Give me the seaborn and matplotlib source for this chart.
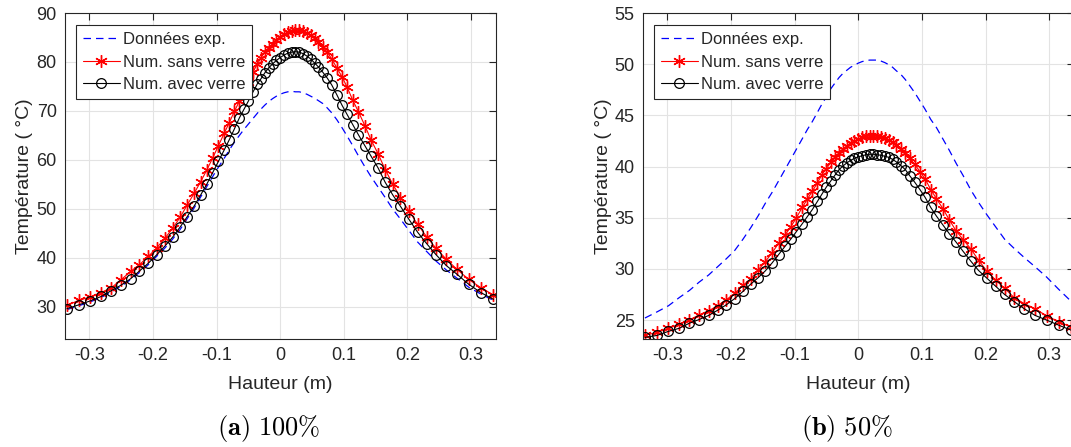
import numpy as np
import pandas as pd
import matplotlib
matplotlib.use("Agg")
import matplotlib.pyplot as plt
import seaborn as sns

# positions along the height (m), shared by all series
hauteur = [-0.335, -0.316, -0.298, -0.281, -0.265, -0.250, -0.235, -0.221, -0.207, -0.194,
           -0.181, -0.169, -0.157, -0.146, -0.135, -0.125, -0.115, -0.106, -0.097, -0.088,
           -0.080, -0.072, -0.064, -0.057, -0.050, -0.043, -0.036, -0.030, -0.024, -0.018,
           -0.012, -0.006, 0.000, 0.006, 0.012, 0.018, 0.024, 0.030, 0.036, 0.042,
           0.048, 0.054, 0.060, 0.067, 0.074, 0.081, 0.089, 0.097, 0.105, 0.114,
           0.123, 0.133, 0.143, 0.154, 0.165, 0.177, 0.189, 0.202, 0.216, 0.230,
           0.245, 0.261, 0.278, 0.296, 0.315, 0.335]

# (a) 100%
exp_100 = [29.4, 30.2, 31.0, 31.9, 33.0, 34.2, 35.5, 37.0, 38.6, 40.3,
           42.0, 43.8, 45.8, 48.0, 50.2, 52.4, 54.6, 56.6, 58.5, 60.3,
           62.0, 63.6, 65.0, 66.2, 67.3, 68.4, 69.5, 70.4, 71.2, 71.9,
           72.5, 73.0, 73.4, 73.7, 73.9, 74.0, 73.9, 73.9, 73.7, 73.4,
           73.0, 72.6, 72.1, 71.5, 70.6, 69.6, 68.2, 66.6, 64.9, 62.9,
           60.8, 58.6, 56.5, 54.4, 52.3, 49.9, 47.9, 45.6, 43.2, 41.3,
           39.3, 37.5, 35.8, 34.0, 32.6, 31.3]
sans_100 = [30.3, 31.3, 32.0, 32.9, 33.9, 35.5, 37.2, 38.6, 40.3, 42.0,
            44.0, 46.0, 48.3, 50.8, 53.2, 55.5, 58.0, 60.4, 62.9, 65.4,
            67.6, 69.9, 72.0, 73.9, 76.0, 77.9, 79.5, 80.9, 82.0, 82.9,
            83.7, 84.5, 85.2, 85.7, 86.1, 86.4, 86.5, 86.5, 86.3, 86.0,
            85.5, 84.8, 84.0, 83.0, 82.0, 80.6, 78.8, 77.0, 74.9, 72.2,
            69.8, 67.0, 64.0, 61.2, 58.0, 55.0, 52.3, 49.6, 46.8, 44.3,
            41.9, 39.7, 37.6, 35.6, 33.9, 32.4]
avec_100 = [29.6, 30.4, 31.2, 32.1, 33.3, 34.4, 35.7, 37.3, 38.9, 40.6,
            42.4, 44.2, 46.3, 48.4, 50.6, 52.8, 55.1, 57.4, 59.7, 62.0,
            64.1, 66.3, 68.6, 70.3, 72.0, 73.8, 75.5, 76.6, 77.8, 78.8,
            79.6, 80.3, 80.9, 81.4, 81.8, 82.0, 82.1, 82.0, 81.7, 81.2,
            80.6, 79.8, 79.0, 77.9, 76.7, 75.3, 73.3, 71.2, 69.3, 67.2,
            65.1, 62.9, 60.7, 58.3, 55.4, 52.8, 50.5, 47.9, 45.2, 42.9,
            40.6, 38.4, 36.6, 34.6, 32.9, 31.5]

# (b) 50%
exp_50 = [25.2, 25.8, 26.4, 27.2, 27.9, 28.7, 29.4, 30.2, 31.0, 31.8,
          32.9, 34.0, 35.2, 36.4, 37.5, 38.6, 39.7, 40.7, 41.7, 42.7,
          43.6, 44.4, 45.3, 46.1, 46.8, 47.6, 48.2, 48.7, 49.1, 49.4,
          49.7, 49.9, 50.1, 50.25, 50.35, 50.4, 50.4, 50.4, 50.3, 50.15,
          49.95, 49.7, 49.35, 49.0, 48.5, 47.9, 47.2, 46.4, 45.6, 44.6,
          43.8, 42.7, 41.6, 40.3, 39.1, 37.7, 36.5, 35.3, 34.1, 32.9,
          32.0, 31.1, 30.2, 29.2, 28.0, 26.8]
sans_50 = [23.5, 23.8, 24.2, 24.6, 25.0, 25.5, 25.9, 26.4, 27.0, 27.6,
           28.4, 29.0, 29.9, 30.7, 31.6, 32.5, 33.3, 34.1, 35.0, 36.0,
           36.8, 37.6, 38.4, 39.2, 39.8, 40.4, 40.9, 41.3, 41.7, 42.0,
           42.3, 42.5, 42.7, 42.85, 42.95, 43.0, 43.0, 42.95, 42.9, 42.75,
           42.6, 42.4, 42.1, 41.75, 41.3, 40.8, 40.2, 39.5, 38.8, 37.75,
           36.85, 35.9, 34.8, 33.7, 32.85, 31.95, 30.85, 29.8, 28.9, 28.1,
           27.2, 26.6, 26.1, 25.4, 24.85, 24.3]
avec_50 = [23.3, 23.5, 23.9, 24.2, 24.7, 25.05, 25.45, 25.95, 26.5, 27.1,
           27.8, 28.5, 29.15, 29.8, 30.6, 31.4, 32.2, 32.9, 33.65, 34.4,
           35.1, 35.8, 36.6, 37.3, 38.0, 38.6, 39.2, 39.7, 40.05, 40.35,
           40.6, 40.8, 40.95, 41.05, 41.15, 41.2, 41.2, 41.15, 41.1, 41.0,
           40.9, 40.7, 40.45, 40.1, 39.7, 39.1, 38.45, 37.75, 37.0, 36.0,
           35.15, 34.3, 33.45, 32.6, 31.7, 30.75, 29.85, 29.1, 28.3, 27.5,
           26.8, 26.1, 25.45, 25.0, 24.5, 24.0]

legend_labels = ["Données exp.", "Num. sans verre", "Num. avec verre"]
captions = [r"$\mathbf{(a)}\ 100\%$", r"$\mathbf{(b)}\ 50\%$"]

sns.set_theme(style="whitegrid", rc={
    "grid.color": "#e3e3e3", "grid.linewidth": 0.8,
    "axes.edgecolor": "#262626", "axes.linewidth": 0.8,
    "xtick.color": "#262626", "ytick.color": "#262626",
    "text.color": "#262626", "axes.labelcolor": "#262626",
    "mathtext.fontset": "cm",
})
plt.rcParams["font.family"] = ["Liberation Sans", "DejaVu Sans"]

fig = plt.figure(figsize=(10.71, 4.47), dpi=100)
ax_a = fig.add_axes([0.0607, 0.2416, 0.4024, 0.7293])
ax_b = fig.add_axes([0.6004, 0.2416, 0.4024, 0.7293])

asterisk = (6, 2, 0)


def draw_panel(ax, exp, sans, avec, ylim, yticks, ylabel_x):
    sns.lineplot(x=hauteur, y=exp, ax=ax, color="blue", linestyle=(0, (6, 4)),
                 linewidth=0.9, label=legend_labels[0])
    sns.lineplot(x=hauteur, y=sans, ax=ax, color="red", linewidth=0.8,
                 marker=asterisk, markersize=9, markeredgewidth=1.0,
                 markeredgecolor="red", label=legend_labels[1])
    sns.lineplot(x=hauteur, y=avec, ax=ax, color="black", linewidth=0.8,
                 marker="o", markersize=7, markerfacecolor="none",
                 markeredgecolor="black", markeredgewidth=0.9,
                 label=legend_labels[2])
    ax.set_xlim(-0.338, 0.339)
    ax.set_ylim(*ylim)
    ax.set_xticks([-0.3, -0.2, -0.1, 0, 0.1, 0.2, 0.3])
    ax.set_xticklabels(["-0.3", "-0.2", "-0.1", "0", "0.1", "0.2", "0.3"])
    ax.set_yticks(yticks)
    ax.tick_params(direction="in", length=5, width=0.8, labelsize=13,
                   top=True, right=True, pad=6)
    ax.set_xlabel("Hauteur (m)", fontsize=14)
    ax.set_ylabel("Température ( °C)", fontsize=14)
    ax.xaxis.set_label_coords(0.5, -0.115)
    ax.yaxis.set_label_coords(ylabel_x, 0.5)
    leg = ax.legend(loc="upper left", bbox_to_anchor=(0.026, 0.962),
                    fontsize=12, frameon=True, fancybox=False, framealpha=1,
                    edgecolor="#262626", handlelength=2.2, handletextpad=0.2,
                    borderpad=0.4, labelspacing=0.45, borderaxespad=0)
    leg.get_frame().set_linewidth(0.8)


draw_panel(ax_a, exp_100, sans_100, avec_100, (23.4, 90), [30, 40, 50, 60, 70, 80, 90], -0.075)
draw_panel(ax_b, exp_50, sans_50, avec_50, (23.15, 55), [25, 30, 35, 40, 45, 50, 55], -0.072)

fig.text(269 / 1071, 1 - 428 / 447, captions[0], fontsize=19, ha="center", va="center", color="black")
fig.text(847 / 1071, 1 - 428 / 447, captions[1], fontsize=19, ha="center", va="center", color="black")

fig.savefig("out.png", dpi=100)
